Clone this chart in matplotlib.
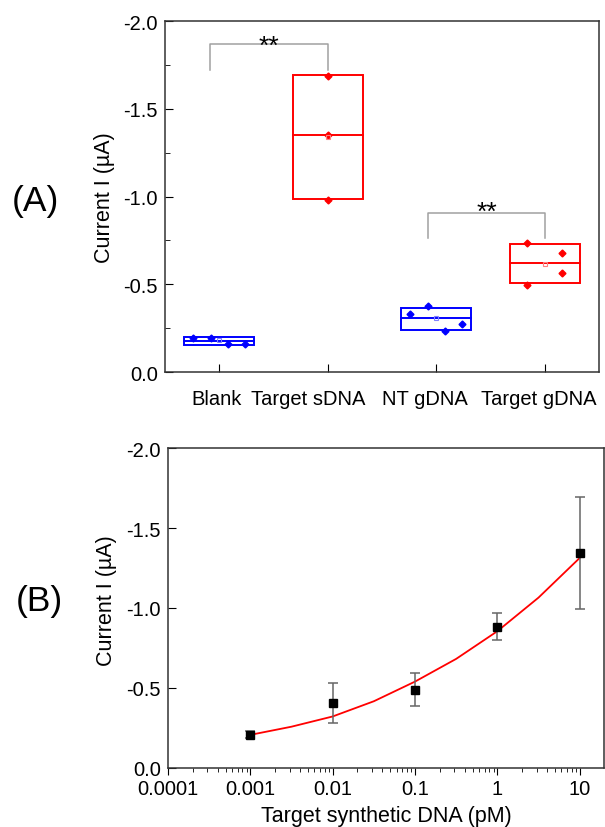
import numpy as np
import matplotlib
matplotlib.use('Agg')
import matplotlib.pyplot as plt
import matplotlib.transforms as mtransforms
from matplotlib.ticker import FixedLocator, FixedFormatter, MultipleLocator, LogLocator, NullFormatter

plt.rcParams['font.family'] = ['Liberation Sans', 'DejaVu Sans']
plt.rcParams['axes.unicode_minus'] = False

# ---- panel A data ----
GROUPS = ['Blank', 'Target sDNA', 'NT gDNA', 'Target gDNA']
box_low = [-0.156, -0.987, -0.240, -0.509]
box_high = [-0.198, -1.690, -0.366, -0.727]
box_med = [-0.177, -1.349, -0.305, -0.621]
group_mean = [-0.181, -1.340, -0.305, -0.617]
pts_blank = [-0.193, -0.196, -0.160, -0.160]
pts_sdna = [-1.686, -1.349, -0.983]
pts_nt = [-0.331, -0.375, -0.233, -0.272]
pts_gdna = [-0.735, -0.497, -0.678, -0.562]
group_colors = ['#0000ff', '#ff0000', '#0000ff', '#ff0000']
mean_colors = ['#8080ff', '#ff8080', '#8080ff', '#ff8080']

# ---- panel B data ----
conc = [0.001, 0.01, 0.1, 1, 10]
current = [-0.208, -0.404, -0.490, -0.883, -1.346]
current_err = [0.020, 0.125, 0.105, 0.085, 0.350]
fit_x = [0.001, 0.00316, 0.01, 0.0316, 0.1, 0.316, 1, 3.16, 10]
fit_y = [-0.207, -0.258, -0.322, -0.417, -0.540, -0.682, -0.855, -1.065, -1.313]

fig = plt.figure(figsize=(6.05, 8.28), dpi=100)

# ============================================================================
# Panel A: box chart
# ============================================================================
ax1 = fig.add_axes([0.2727, 0.5495, 0.7173, 0.4239])
xpos = np.arange(1, len(GROUPS) + 1)
box_w = 0.645
ax1.bar(xpos, np.array(box_high) - np.array(box_low), box_w, bottom=box_low,
        fill=False, edgecolor=group_colors, linewidth=1.4)
for x, m, c in zip(xpos, box_med, group_colors):
    ax1.plot([x - box_w/2, x + box_w/2], [m, m], color=c, lw=1.4)

jitter = [[-0.24, -0.08, 0.08, 0.24], [0, 0, 0], [-0.24, -0.08, 0.08, 0.24],
          [-0.16, -0.16, 0.16, 0.16]]
for x, pts, off, c in zip(xpos, [pts_blank, pts_sdna, pts_nt, pts_gdna], jitter, group_colors):
    ax1.plot(x + np.array(off), pts, 'D', color=c, markersize=3.5, linestyle='none')
for x, m, c in zip(xpos, group_mean, mean_colors):
    ax1.plot(x, m, 's', mfc='none', mec=c, markersize=3.5, mew=0.8)

# significance brackets
br_col = '#a0a0a0'
ax1.plot([0.914, 0.914, 2.0, 2.0], [-1.722, -1.869, -1.869, -1.722], color=br_col, lw=1.1)
ax1.text(1.457, -1.819, '**', ha='center', va='baseline', fontsize=19)
ax1.plot([2.925, 2.925, 4.007, 4.007], [-0.762, -0.908, -0.908, -0.762], color=br_col, lw=1.1)
ax1.text(3.466, -0.873, '**', ha='center', va='baseline', fontsize=19)

ax1.set_xlim(0.5, 4.5)
ax1.set_ylim(0, -2.0)
ax1.set_xticks(xpos)
ax1.set_xticklabels(GROUPS, fontsize=14.5)
ax1.yaxis.set_major_locator(MultipleLocator(0.5))
ax1.yaxis.set_minor_locator(MultipleLocator(0.25))
ax1.yaxis.set_major_formatter(plt.FuncFormatter(lambda v, p: f'{v:.1f}' if abs(v) > 1e-9 else '0.0'))
ax1.tick_params(axis='y', which='major', direction='in', length=6, labelsize=14.5, pad=5)
ax1.tick_params(axis='y', which='minor', direction='in', length=3.5)
ax1.tick_params(axis='x', direction='in', length=6, pad=12)
# labels sit a little left of their ticks in the original
for lbl, dx in zip(ax1.get_xticklabels(), [-3, -20, -11, -6]):
    lbl.set_transform(lbl.get_transform() + mtransforms.ScaledTranslation(dx / 100, 0, fig.dpi_scale_trans))
ax1.set_ylabel('Current I (µA)', fontsize=15.5, labelpad=6)
for s in ax1.spines.values():
    s.set_color('#333333')
    s.set_linewidth(1.1)

# ============================================================================
# Panel B: calibration curve
# ============================================================================
ax2 = fig.add_axes([0.2777, 0.0713, 0.7203, 0.3864])
ax2.plot(fit_x, fit_y, color='#ff0000', lw=1.3, zorder=2)
ax2.errorbar(conc, current, yerr=current_err, fmt='s', color='black', markersize=6,
             ecolor='#666666', elinewidth=1.1, capsize=3.5, capthick=1.1, zorder=3)
ax2.set_xscale('log')
ax2.set_xlim(1e-4, 19.6)
ax2.set_ylim(0, -2.0)
ax2.xaxis.set_major_locator(FixedLocator([1e-4, 1e-3, 1e-2, 0.1, 1, 10]))
ax2.xaxis.set_major_formatter(FixedFormatter(['0.0001', '0.001', '0.01', '0.1', '1', '10']))
ax2.xaxis.set_minor_locator(LogLocator(base=10, subs=np.arange(2, 10)))
ax2.xaxis.set_minor_formatter(NullFormatter())
ax2.yaxis.set_major_locator(MultipleLocator(0.5))
ax2.yaxis.set_major_formatter(plt.FuncFormatter(lambda v, p: f'{v:.1f}' if abs(v) > 1e-9 else '0.0'))
ax2.tick_params(axis='y', direction='in', length=6, labelsize=14.5, pad=5)
ax2.tick_params(axis='x', which='major', direction='out', length=5, labelsize=14.5, pad=3)
ax2.tick_params(axis='x', which='minor', direction='out', length=3)
ax2.set_xlabel('Target synthetic DNA (pM)', fontsize=15.5, labelpad=5)
ax2.set_ylabel('Current I (µA)', fontsize=15.5)
ax2.yaxis.set_label_coords(-0.117, 0.525)
for s in ax2.spines.values():
    s.set_color('#333333')
    s.set_linewidth(1.1)

fig.text(35/605, 1 - 202/828, '(A)', fontsize=25.5, ha='center', va='center')
fig.text(39/605, 1 - 602/828, '(B)', fontsize=25.5, ha='center', va='center')

fig.savefig('out.png', dpi=100)
